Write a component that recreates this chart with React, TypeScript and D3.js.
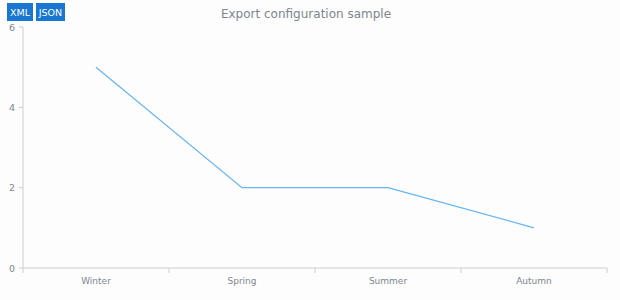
import React from "react";
import * as d3 from "d3";

const categories = ["Winter", "Spring", "Summer", "Autumn"];
const values = [5, 2, 2, 1];
const yTicks = [0, 2, 4, 6];
const title = "Export configuration sample";
const buttons = ["XML", "JSON"];

export default function App() {
  const W = 620, H = 300;
  const left = 23, right = 607, top = 27, bottom = 268;
  const x = d3.scaleBand<string>().domain(categories).range([left, right]);
  const y = d3.scaleLinear().domain([0, 6]).range([bottom, top]);
  const line = d3
    .line<number>()
    .x((_, i) => (x(categories[i]) as number) + x.bandwidth() / 2)
    .y((d) => y(d));
  const font = "'DejaVu Sans', Verdana, sans-serif";
  const tickEdges = [...categories.map((c) => x(c) as number), right];
  const btnX = [7, 36];
  const btnW = [26, 29];
  return (
    <div style={{ position: "fixed", left: 0, top: 0 }}>
      <svg width={W} height={H} style={{ display: "block", background: "#fdfdfd" }}>
        <text x={306} y={18} textAnchor="middle" fontFamily={font} fontSize={12} fill="#7c868e">
          {title}
        </text>
        {buttons.map((b, i) => (
          <g key={b}>
            <rect x={btnX[i]} y={3} width={btnW[i]} height={18} fill="#1976d2" />
            <text x={btnX[i] + btnW[i] / 2} y={15.5} textAnchor="middle" fontFamily={font} fontSize={9.5} fill="#fff">
              {b}
            </text>
          </g>
        ))}
        <line x1={left} x2={left} y1={top} y2={bottom} stroke="#cecece" />
        <line x1={left} x2={right} y1={bottom} y2={bottom} stroke="#cecece" />
        {yTicks.map((t) => (
          <g key={t}>
            <line x1={left - 4} x2={left} y1={y(t)} y2={y(t)} stroke="#cecece" />
            <text x={left - 8} y={y(t) + 3.5} textAnchor="end" fontFamily={font} fontSize={9.5} fill="#7c868e">
              {t}
            </text>
          </g>
        ))}
        {tickEdges.map((e, i) => (
          <line key={i} x1={e} x2={e} y1={bottom} y2={bottom + 5} stroke="#cecece" />
        ))}
        {categories.map((c) => (
          <text
            key={c}
            x={(x(c) as number) + x.bandwidth() / 2}
            y={bottom + 16}
            textAnchor="middle"
            fontFamily={font}
            fontSize={9}
            fill="#7c868e"
          >
            {c}
          </text>
        ))}
        <path d={line(values) ?? ""} fill="none" stroke="#64b5f6" strokeWidth={1.2} />
      </svg>
    </div>
  );
}
